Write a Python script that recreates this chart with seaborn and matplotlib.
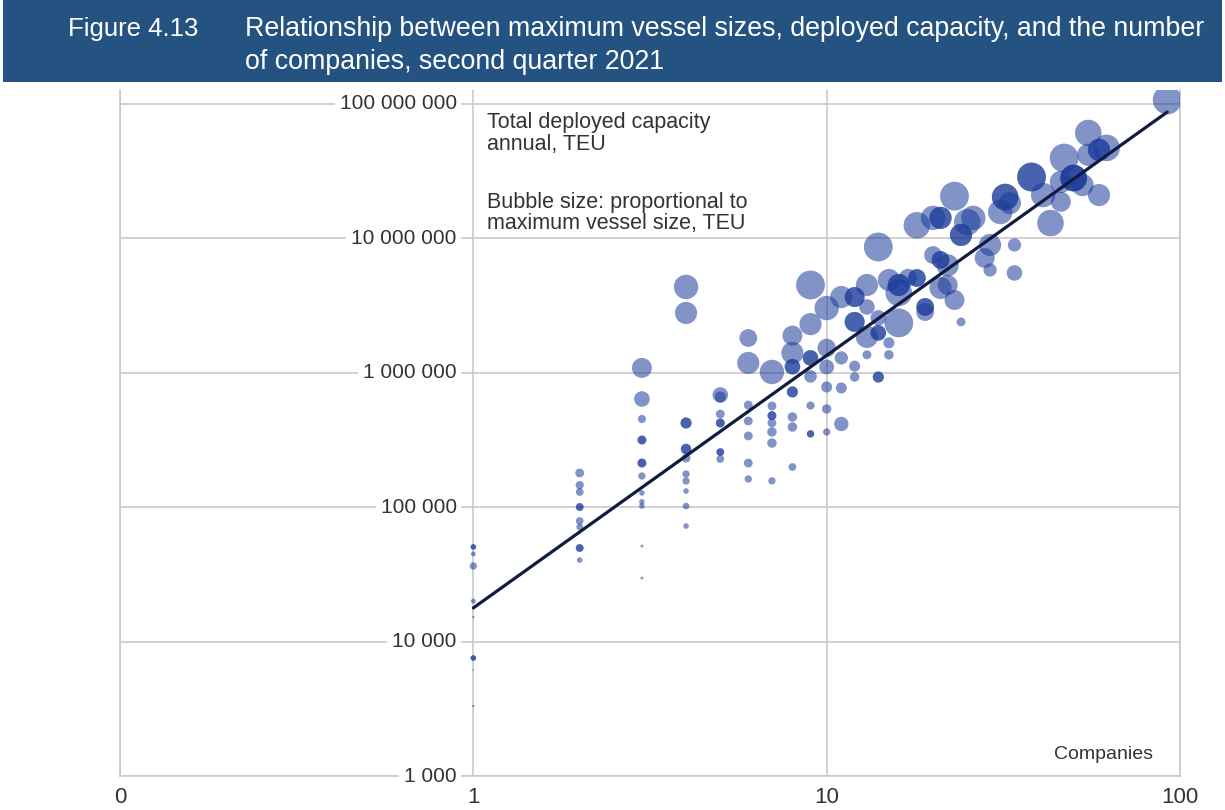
import pandas as pd
import seaborn as sns
import matplotlib.pyplot as plt
from matplotlib.patches import Rectangle

# =========================
# DATA
# =========================
companies = [
    1, 1, 1, 1, 1, 1, 1, 1, 1, 1,
    2, 2, 2, 2, 2, 2, 2, 2, 2, 2,
    3, 3, 3, 3, 3, 3, 3, 3, 3, 3, 3, 3, 3,
    4, 4, 4, 4, 4, 4, 4, 4, 4, 4, 4, 4,
    5, 5, 5, 5, 5, 5, 5, 5,
    6, 6, 6, 6, 6, 6, 6,
    7, 7, 7, 7, 7, 7, 7, 7,
    8, 8, 8, 8, 8, 8, 8, 8, 8,
    9, 9, 9, 9, 9, 9, 9, 9,
    10, 10, 10, 10, 10, 10,
    11, 11, 11, 11,
    12, 12, 12, 12, 12, 12,
    13, 13, 13, 13,
    14, 14, 14, 14, 14, 14,
    15, 15, 15,
    16, 16, 16, 16,
    17,
    18, 18, 18,
    19, 19, 19,
    20, 20,
    21, 21, 21, 21, 21,
    22, 22,
    23, 23,
    24, 24, 24,
    25, 26, 28,
    29, 29,
    31,
    32, 32,
    33,
    34, 34,
    38, 38,
    41, 43,
    46, 46,
    47,
    50, 50, 50,
    53,
    55, 55,
    59, 59, 59,
    62, 92,
]

capacity = [
    50600, 50600, 44900, 36500, 20000, 15200, 7550, 7550, 6150, 3320,
    179600, 146000, 129700, 100300, 100300, 78900, 71200, 49700, 49700, 40400,
    1087000, 638000, 453000, 316000, 316000, 213000, 213000, 170600, 127600, 109500, 102000, 51400, 29700,
    4350000, 2785000, 423000, 423000, 271000, 271000, 232000, 176500, 156700, 132000, 102000, 72400,
    684000, 660000, 493000, 423000, 423000, 257000, 257000, 228000,
    1815000, 1183000, 575000, 438000, 339000, 213000, 162000,
    1014000, 566000, 480000, 480000, 424000, 363000, 300000, 157000,
    1890000, 1404000, 1110000, 1110000, 720000, 720000, 469000, 395000, 199000,
    4500000, 2300000, 1290000, 1290000, 940000, 570000, 351000, 351000,
    3030000, 1530000, 1105000, 784000, 538000, 363000,
    3660000, 1290000, 771000, 416000,
    3660000, 3660000, 2390000, 2390000, 1120000, 930000,
    4500000, 3090000, 1850000, 1360000,
    8630000, 2560000, 1980000, 1980000, 930000, 930000,
    4900000, 1670000, 1360000,
    4500000, 4500000, 3930000, 2350000,
    5100000,
    12500000, 5070000, 5070000,
    3090000, 3090000, 2830000,
    14200000, 7520000,
    14200000, 14200000, 6910000, 6910000, 4280000,
    6300000, 4500000,
    20600000, 3480000,
    10600000, 10600000, 2390000,
    13200000, 14200000, 7150000,
    8930000, 5820000,
    15700000,
    20300000, 20300000,
    18300000,
    8930000, 5530000,
    28600000, 28600000,
    21000000, 13000000,
    26300000, 18700000,
    39600000,
    28100000, 28100000, 28100000,
    24900000,
    60800000, 41800000,
    45500000, 45500000, 21000000,
    47100000, 107000000,
]

max_vessel_teu = [
    890, 890, 690, 1550, 690, 140, 890, 890, 70, 140,
    2270, 1940, 1740, 1740, 1740, 1740, 1280, 1740, 1740, 890,
    11500, 7000, 1940, 2270, 2270, 2270, 2270, 1550, 890, 890, 890, 240, 240,
    17200, 14200, 3550, 3550, 3140, 3140, 2270, 1550, 1550, 890, 1280, 890,
    7000, 3550, 2270, 2270, 2270, 1740, 1740, 1740,
    9100, 14200, 2270, 2270, 2270, 2270, 1550,
    17200, 2270, 2270, 2270, 2270, 2600, 2600, 1550,
    11500, 14200, 7000, 7000, 3550, 3550, 2600, 2600, 1740,
    24000, 14200, 7000, 7000, 4600, 1940, 1550, 1550,
    17200, 9800, 6400, 3550, 2600, 1550,
    14200, 5100, 3550, 6000,
    11500, 11500, 11500, 11500, 3550, 2600,
    14200, 7000, 14200, 2270,
    24000, 7000, 7000, 7000, 3550, 3550,
    14200, 3550, 2600,
    14200, 14200, 20400, 24000,
    9100,
    20400, 9100, 9100,
    9100, 9100, 9100,
    17200, 9100,
    14200, 14200, 9100, 9100, 14200,
    14200, 11500,
    24000, 11500,
    14200, 14200, 2270,
    20400, 17200, 11500,
    14200, 5100,
    17200,
    20400, 20400,
    14200,
    5100, 7000,
    24000, 24000,
    17200, 20400,
    14200, 11500,
    24000,
    20400, 20400, 20400,
    14200,
    20400, 14200,
    14200, 14200, 14200,
    20400, 24000,
]

# fitted trend (end points)
trend_companies = [1, 92]
trend_capacity = [17800, 87000000]

y_ticks = [1e3, 1e4, 1e5, 1e6, 1e7, 1e8]
y_tick_labels = ["1 000", "10 000", "100 000", "1 000 000", "10 000 000", "100 000 000"]
x_ticks = [0.1, 1, 10, 100]
x_tick_labels = ["0", "1", "10", "100"]

df = pd.DataFrame({
    "companies": companies,
    "capacity": capacity,
    "vessel": max_vessel_teu,
})
trend = pd.DataFrame({"companies": trend_companies, "capacity": trend_capacity})

# =========================
# STYLE
# =========================
sns.set_style("white")
plt.rcParams["font.family"] = ["Liberation Sans", "DejaVu Sans"]
TXT = "#333333"
GRID = "#c9c9c9"

fig = plt.figure(figsize=(12.25, 8.1), dpi=100)

# header band
fig.patches.append(Rectangle((3 / 1225, 1 - 82 / 810), 1219 / 1225, 82 / 810,
                             transform=fig.transFigure, facecolor="#245381",
                             edgecolor="none", zorder=0))
fig.text(68 / 1225, 1 - 29 / 810, "Figure 4.13", color="white", fontsize=18.5,
         va="center", ha="left")
fig.text(245 / 1225, 1 - 29 / 810,
         "Relationship between maximum vessel sizes, deployed capacity, and the number",
         color="white", fontsize=19.3, va="center", ha="left")
fig.text(245 / 1225, 1 - 62 / 810, "of companies, second quarter 2021",
         color="white", fontsize=19.3, va="center", ha="left")

ax = fig.add_axes([120 / 1225, 1 - 776 / 810, 1060 / 1225, 686 / 810])
ax.set_xscale("log")
ax.set_yscale("log")

# =========================
# BUBBLES + TREND
# =========================
sns.scatterplot(
    data=df, x="companies", y="capacity", size="vessel",
    sizes=(0, 430), size_norm=(0, 24000),
    color="#1a3a9a", alpha=0.55, linewidth=0, legend=False, ax=ax, zorder=3,
)
sns.lineplot(data=trend, x="companies", y="capacity", color="#0f1c3f",
             linewidth=2.3, ax=ax, zorder=4)

ax.set_xlim(0.1, 100)
ax.set_ylim(1000, 1.27e8)

# =========================
# AXES / GRID
# =========================
ax.set_xticks(x_ticks)
ax.set_xticklabels(x_tick_labels)
ax.set_yticks(y_ticks)
ax.set_yticklabels([])
ax.minorticks_off()
ax.tick_params(axis="both", length=0, labelsize=16, colors=TXT)
ax.tick_params(axis="x", pad=8)
ax.grid(True, color=GRID, linewidth=1.2)
ax.set_axisbelow(True)
for side in ["left", "right", "bottom"]:
    ax.spines[side].set_color(GRID)
    ax.spines[side].set_linewidth(1.2)
ax.spines["top"].set_visible(False)
ax.set_xlabel("")
ax.set_ylabel("")

# y labels sit on the x = 1 line, masking the grid behind them
for val, lab in zip(y_ticks, y_tick_labels):
    ax.annotate(lab, xy=(1, val), xycoords="data", xytext=(-12, 0),
                textcoords="offset points", ha="right", va="center",
                fontsize=15, color=TXT, zorder=5,
                bbox=dict(facecolor="white", edgecolor="none", pad=3.5))

ax.text(0.3462, 0.968, "Total deployed capacity\nannual, TEU", transform=ax.transAxes,
        ha="left", va="top", fontsize=15.5, color=TXT, linespacing=1.05)
ax.text(0.3462, 0.852, "Bubble size: proportional to\nmaximum vessel size, TEU",
        transform=ax.transAxes, ha="left", va="top", fontsize=15.5, color=TXT,
        linespacing=1.05)
ax.text(0.9745, 0.032, "Companies", transform=ax.transAxes, ha="right",
        va="center", fontsize=14, color=TXT)

plt.savefig("out.png", dpi=100)
plt.close()
